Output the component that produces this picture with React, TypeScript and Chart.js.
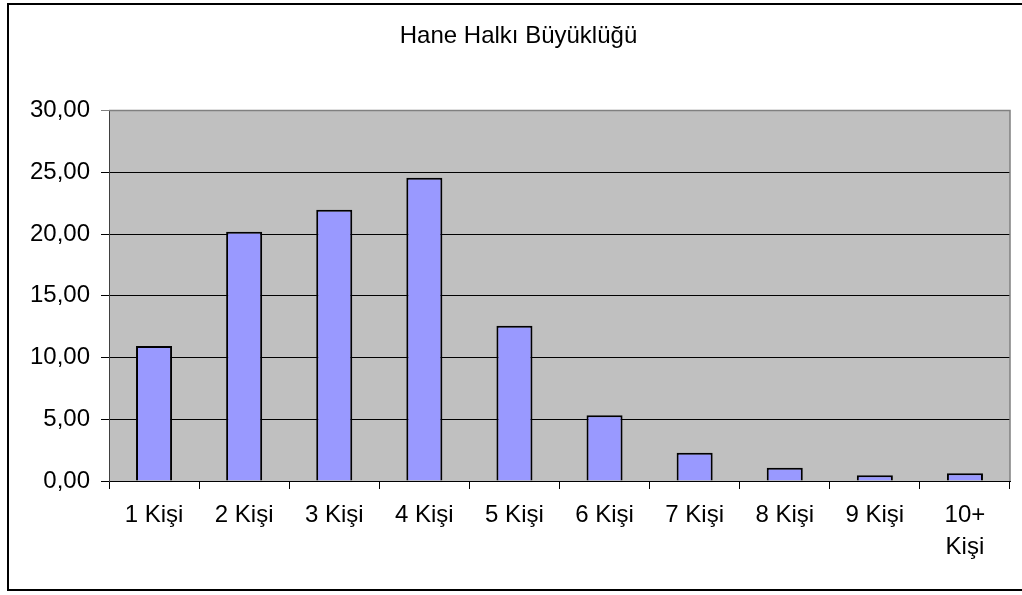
import React, { useEffect, useRef } from 'react';
import { Chart, registerables } from 'chart.js';

Chart.register(...registerables);

const chartTitle = 'Hane Halkı Büyüklüğü';
const categories: (string | string[])[] = [
  '1 Kişi', '2 Kişi', '3 Kişi', '4 Kişi', '5 Kişi',
  '6 Kişi', '7 Kişi', '8 Kişi', '9 Kişi', ['10+', 'Kişi'],
];
const values = [10.94, 20.18, 21.96, 24.55, 12.58, 5.32, 2.29, 1.08, 0.46, 0.62];
const yMin = 0;
const yMax = 30;
const yStep = 5;

const FONT = '"Liberation Sans", Arial, sans-serif';

const framePlugin = {
  id: 'framePlugin',
  beforeDraw(chart: any) {
    const { ctx, chartArea } = chart;
    ctx.save();
    ctx.fillStyle = '#ffffff';
    ctx.fillRect(0, 0, chart.width, chart.height);
    ctx.fillStyle = '#C0C0C0';
    ctx.fillRect(chartArea.left, chartArea.top, chartArea.right - chartArea.left, chartArea.bottom - chartArea.top);
    ctx.restore();
  },
  afterDraw(chart: any) {
    const { ctx, chartArea } = chart;
    ctx.save();
    ctx.strokeStyle = '#808080';
    ctx.lineWidth = 1.5;
    ctx.beginPath();
    ctx.moveTo(chartArea.left, chartArea.top);
    ctx.lineTo(chartArea.right, chartArea.top);
    ctx.lineTo(chartArea.right, chartArea.bottom);
    ctx.stroke();
    ctx.strokeStyle = '#000000';
    ctx.lineWidth = 2;
    ctx.strokeRect(8, 4, 1040, 586);
    ctx.fillStyle = '#000000';
    ctx.font = `24px ${FONT}`;
    ctx.textAlign = 'center';
    ctx.textBaseline = 'middle';
    ctx.fillText(chartTitle, 518.5, 36);
    ctx.restore();
  },
};

export default function App() {
  const canvasRef = useRef<HTMLCanvasElement | null>(null);

  useEffect(() => {
    if (!canvasRef.current) return;
    const chart = new Chart(canvasRef.current, {
      type: 'bar',
      data: {
        labels: categories as any,
        datasets: [
          {
            data: values,
            backgroundColor: '#9999FF',
            borderColor: '#000000',
            borderWidth: 2,
            barPercentage: 0.4,
            categoryPercentage: 1,
          },
        ],
      },
      options: {
        animation: false,
        responsive: false,
        maintainAspectRatio: false,
        layout: { padding: { top: 110.5, right: 12, bottom: 0, left: 0 } },
        plugins: {
          legend: { display: false },
          title: { display: false },
          tooltip: { enabled: false },
        },
        scales: {
          x: {
            afterFit(scale: any) {
              scale.height = 114;
            },
            grid: {
              offset: true,
              drawOnChartArea: false,
              drawTicks: true,
              tickLength: 8,
              color: '#000000',
            },
            border: { display: true, color: '#000000', width: 1 },
            ticks: {
              color: '#000000',
              padding: 10,
              maxRotation: 0,
              autoSkip: false,
              font: { family: FONT, size: 24, lineHeight: 1.35 },
            },
          },
          y: {
            min: yMin,
            max: yMax,
            afterFit(scale: any) {
              scale.width = 109;
            },
            grid: {
              drawTicks: true,
              tickLength: 8,
              color: (c: any) => (c.tick && c.tick.value === yMax ? '#808080' : '#000000'),
            },
            border: { display: true, color: '#404040', width: 1 },
            ticks: {
              stepSize: yStep,
              color: '#000000',
              padding: 11,
              font: { family: FONT, size: 24 },
              callback: (v: any) => Number(v).toFixed(2).replace('.', ','),
            },
          },
        },
      },
      plugins: [framePlugin],
    });
    return () => chart.destroy();
  }, []);

  return (
    <div style={{ position: 'fixed', left: 0, top: 0, width: 1022, height: 595, background: '#fff' }}>
      <canvas ref={canvasRef} width={1022} height={595} style={{ width: 1022, height: 595, display: 'block' }} />
    </div>
  );
}
